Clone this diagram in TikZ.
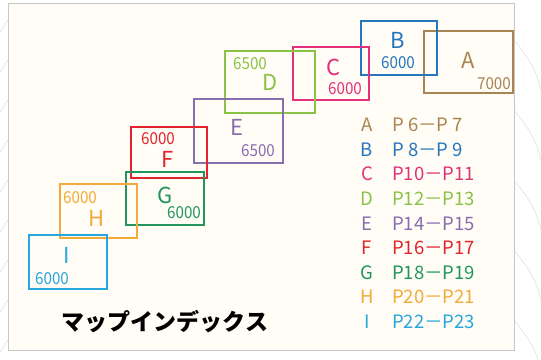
\documentclass[tikz,border=0pt]{standalone}
\usepackage{fontspec}
\setmainfont{Noto Sans CJK JP}
\definecolor{colA}{RGB}{168,132,82}
\definecolor{colB}{RGB}{38,118,190}
\definecolor{colC}{RGB}{226,48,122}
\definecolor{colD}{RGB}{138,194,72}
\definecolor{colE}{RGB}{134,110,176}
\definecolor{colF}{RGB}{226,36,46}
\definecolor{colG}{RGB}{32,150,92}
\definecolor{colH}{RGB}{242,170,58}
\definecolor{colI}{RGB}{40,166,222}
\definecolor{paper}{RGB}{255,253,245}
\tikzset{zone/.style={draw,line width=1.6pt,inner sep=0pt},
  big/.style={font=\fontsize{22}{22}\selectfont,inner sep=0pt},
  num/.style={font=\fontsize{16.5}{16.5}\selectfont,inner sep=0pt,xscale=0.92},
  key/.style={font=\fontsize{18.5}{18.5}\selectfont,inner sep=0pt}}

\begin{document}
\begin{tikzpicture}[x=1pt,y=-1pt]
  \useasboundingbox (0,0) rectangle (541,359);
  % faint map lines round the sheet
  \begin{scope}[gray!25,line width=0.6pt]
    \foreach \y in {20,60,100,140,180,220,260,300,340}
      \draw (0,\y+12) .. controls (4,\y+6) .. (8,\y);
    \foreach \y in {40,110,180,250,320}
      \draw (514,\y) .. controls (530,\y+20) and (536,\y+30) .. (541,\y+50);
  \end{scope}
  \fill[paper] (8,3) rectangle (514,350);
  \draw[gray!45,line width=0.8pt] (8,3) rectangle (514,350);

  % the map sheets
  \node[zone,draw=colA,minimum width=89,minimum height=62] (boxA) at (468.5,62) {};
  \node[zone,draw=colB,minimum width=76,minimum height=54] (boxB) at (399,48) {};
  \node[zone,draw=colC,minimum width=76,minimum height=53] (boxC) at (331,73.5) {};
  \node[zone,draw=colD,minimum width=90,minimum height=62] (boxD) at (270,82) {};
  \node[zone,draw=colE,minimum width=89,minimum height=64] (boxE) at (238.5,131) {};
  \node[zone,draw=colF,minimum width=76,minimum height=51] (boxF) at (169,152.5) {};
  \node[zone,draw=colG,minimum width=78,minimum height=53] (boxG) at (165,198.5) {};
  \node[zone,draw=colH,minimum width=77,minimum height=54] (boxH) at (98.5,211) {};
  \node[zone,draw=colI,minimum width=78,minimum height=54] (boxI) at (68,262) {};

  % sheet letters and scales
  \node[big,text=colA] (nameA) at (468,60) {A};
  \node[num,text=colA,anchor=east] (scaleA) at (511,84) {7000};
  \node[big,text=colB] (nameB) at (398,40) {B};
  \node[num,text=colB] (scaleB) at (398,63) {6000};
  \node[big,text=colC] (nameC) at (334,67) {C};
  \node[num,text=colC] (scaleC) at (345,89) {6000};
  \node[num,text=colD] (scaleD) at (250,64) {6500};
  \node[big,text=colD] (nameD) at (270,82) {D};
  \node[big,text=colE] (nameE) at (237,127) {E};
  \node[num,text=colE] (scaleE) at (258,151) {6500};
  \node[num,text=colF] (scaleF) at (158,139) {6000};
  \node[big,text=colF] (nameF) at (168,159) {F};
  \node[big,text=colG] (nameG) at (165,195) {G};
  \node[num,text=colG] (scaleG) at (184,213) {6000};
  \node[num,text=colH] (scaleH) at (80,198) {6000};
  \node[big,text=colH] (nameH) at (97,218) {H};
  \node[big,text=colI] (nameI) at (67,255) {I};
  \node[num,text=colI] (scaleI) at (52,279) {6000};

  % page list
  \foreach \n/\c/\t [count=\i from 0] in {A/colA/{P 6－P 7},B/colB/{P 8－P 9},
      C/colC/{P10－P11},D/colD/{P12－P13},E/colE/{P14－P15},F/colF/{P16－P17},
      G/colG/{P18－P19},H/colH/{P20－P21},I/colI/{P22－P23}}{
    \node[key,text=\c] (key\n) at (367,125+24.6*\i) {\n};
    \node[key,text=\c,anchor=west] (page\n) at (392,125+24.6*\i) {\t};
  }

  \node[font=\fontsize{23}{23}\selectfont\bfseries,inner sep=0pt] (title) at (165,322) {マップインデックス};
\end{tikzpicture}
\end{document}
